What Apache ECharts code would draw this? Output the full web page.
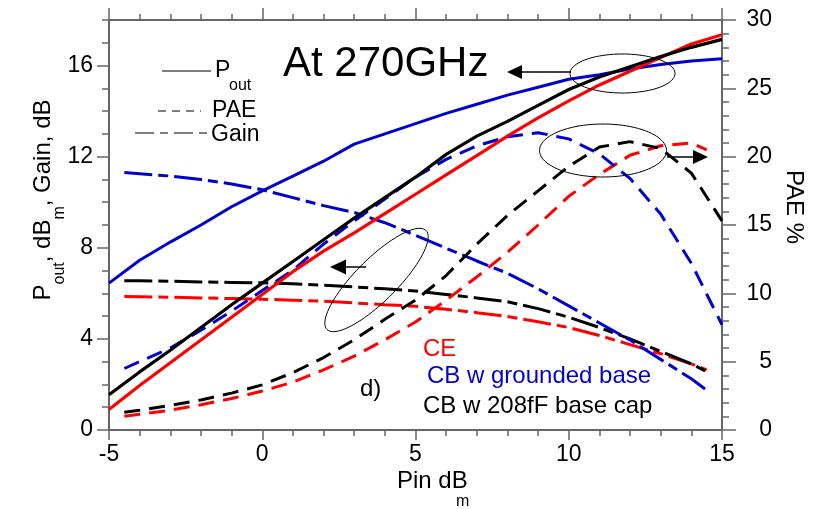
<!DOCTYPE html>
<html><head><meta charset="utf-8">
<script src="https://cdn.jsdelivr.net/npm/echarts@6/dist/echarts.min.js"></script>
<style>html,body{margin:0;padding:0;background:#fff}#c{width:820px;height:509px}</style>
</head><body><div id="c"></div>
<script>
// ---- data ----
const pinPout = [-5,-4,-3,-2,-1,0,1,2,3,4,5,6,7,8,9,10,11,12,13,14,15];
const poutCE  = [0.9,1.95,2.95,3.95,4.95,5.95,6.95,7.85,8.65,9.5,10.35,11.2,12.05,12.9,13.7,14.45,15.15,15.75,16.35,16.95,17.35];
const poutCBg = [6.45,7.45,8.25,9.0,9.8,10.5,11.15,11.8,12.55,13.0,13.45,13.9,14.3,14.7,15.05,15.4,15.6,15.85,16.05,16.2,16.3];
const poutCBc = [1.55,2.55,3.5,4.5,5.5,6.45,7.4,8.35,9.3,10.2,11.1,12.1,12.9,13.55,14.25,14.95,15.5,15.95,16.4,16.8,17.15];

const pinGain = [-4.5,-4,-3,-2,-1,0,1,2,3,4,5,6,7,8,9,10,11,12,13,14,14.5];
const gainCE  = [5.86,5.85,5.83,5.8,5.77,5.74,5.7,5.65,5.58,5.5,5.43,5.3,5.15,4.98,4.75,4.5,4.15,3.75,3.35,2.9,2.64];
const gainCBg = [11.3,11.25,11.15,11.0,10.8,10.55,10.2,9.85,9.55,9.1,8.55,7.98,7.42,6.88,6.2,5.45,4.7,3.95,3.1,2.25,1.75];
const gainCBc = [6.55,6.55,6.53,6.5,6.48,6.46,6.42,6.36,6.28,6.2,6.1,5.95,5.8,5.63,5.33,4.95,4.5,4.0,3.45,2.9,2.56];

const pinPaeCE = [-4.5,-4,-3,-2,-1,0,1,2,3,4,5,6,7,8,9,10,11,12,13,14,14.5];
const paeCE    = [1.0,1.15,1.45,1.85,2.3,2.85,3.5,4.4,5.4,6.6,7.9,9.5,11.2,13.0,15.0,17.1,18.7,20.1,20.8,21.0,20.5];
const pinPaeCB = [-4.5,-4,-3,-2,-1,0,1,2,3,4,5,6,7,8,9,10,11,12,13,14,15];
const paeCBg   = [4.5,5.0,6.0,7.3,8.7,10.2,11.7,13.6,15.3,16.9,18.5,19.8,20.8,21.45,21.75,21.3,20.2,18.4,15.8,12.2,7.7];
const paeCBc   = [1.3,1.45,1.8,2.2,2.7,3.3,4.2,5.3,6.6,8.1,9.5,11.3,13.6,15.7,17.5,19.3,20.7,21.1,20.6,18.8,15.3];

const xTicks = [-5,0,5,10,15];
const yLeftTicks = [0,4,8,12,16];
const yRightTicks = [0,5,10,15,20,25,30];

// ---- helpers ----
const zip = (xs, ys) => xs.map((x, i) => [x, ys[i]]);
const FONT = '"Liberation Sans", Arial, sans-serif';
const RED = '#ff0000', BLUE = '#0000d0', BLACK = '#000000';
const AX = '#666666';
const PAE_DASH = [16, 9];
const GAIN_DASH = [28, 6, 10, 6];

function ellipsePts(cx, cy, a, b, angDeg) {
  const t = angDeg * Math.PI / 180, pts = [];
  for (let i = 0; i <= 90; i++) {
    const u = i / 90 * 2 * Math.PI;
    const ex = a * Math.cos(u), ey = b * Math.sin(u);
    pts.push([cx + ex * Math.cos(t) + ey * Math.sin(t), cy - ex * Math.sin(t) + ey * Math.cos(t)]);
  }
  return pts;
}
function ell(cx, cy, a, b, ang) {
  return { type: 'polyline', shape: { points: ellipsePts(cx, cy, a, b, ang) }, style: { stroke: '#000', lineWidth: 1, fill: null }, z: 50 };
}
function arrowHead(tipX, tipY, dir, len, half) {
  const bx = tipX - dir * len;
  return { type: 'polygon', shape: { points: [[tipX, tipY], [bx, tipY - half], [bx, tipY + half]] }, style: { fill: '#000' }, z: 50 };
}
function hline(x1, x2, y, w, dash) {
  return { type: 'line', shape: { x1, y1: y, x2, y2: y }, style: { stroke: '#000', lineWidth: w || 1, lineDash: dash || null }, z: 50 };
}
function txt(x, y, text, size, color, extra) {
  return Object.assign({ type: 'text', x, y, z: 60, style: { text, fill: color || '#000', font: size + 'px ' + FONT, textAlign: 'left', textVerticalAlign: 'middle' } }, extra || {});
}

const chart = echarts.init(document.getElementById('c'), null, { renderer: 'canvas' });

const tickStyle = { color: AX, width: 1.5 };
const baseAxis = (extra) => Object.assign({
  type: 'value', splitLine: { show: false },
  axisLine: { show: true, onZero: false, lineStyle: { color: AX, width: 2 } },
  axisTick: { show: true, inside: false, lineStyle: tickStyle },
  axisLabel: { show: false }
}, extra);
const noLine = { show: false, onZero: false };

const series = [];
function addLine(xs, ys, color, dash, yIdx, w) {
  series.push({
    type: 'line', data: zip(xs, ys), xAxisIndex: 0, yAxisIndex: yIdx,
    showSymbol: false, symbol: 'none', smooth: false, silent: true,
    lineStyle: { color, width: w || 3, type: dash || 'solid', cap: 'butt' }
  });
}
addLine(pinGain, gainCE, RED, GAIN_DASH, 0);
addLine(pinGain, gainCBc, BLACK, GAIN_DASH, 0);
addLine(pinGain, gainCBg, BLUE, GAIN_DASH, 0);
addLine(pinPaeCE, paeCE, RED, PAE_DASH, 2);
addLine(pinPaeCB, paeCBc, BLACK, PAE_DASH, 2);
addLine(pinPaeCB, paeCBg, BLUE, PAE_DASH, 2);
addLine(pinPout, poutCBg, BLUE, 'solid', 0);
addLine(pinPout, poutCE, RED, 'solid', 0, 3.2);
addLine(pinPout, poutCBc, BLACK, 'solid', 0, 3.2);

const option = {
  animation: false,
  backgroundColor: '#fff',
  grid: { left: 109, right: 98, top: 20, bottom: 79, containLabel: false },
  xAxis: [
    baseAxis({ position: 'bottom', min: -5, max: 15, interval: 5,
      axisTick: { show: true, length: 10, lineStyle: tickStyle },
      axisLabel: { show: true, fontSize: 23, color: '#000', fontFamily: FONT, margin: 13,
        formatter: v => xTicks.includes(v) ? String(v) : '' } }),
    baseAxis({ position: 'bottom', min: -5, max: 15, interval: 1, axisLine: noLine,
      axisTick: { show: true, length: 6, lineStyle: tickStyle } }),
    baseAxis({ position: 'top', min: -5, max: 15, interval: 5,
      axisTick: { show: true, length: 12, lineStyle: tickStyle } }),
    baseAxis({ position: 'top', min: -5, max: 15, interval: 1, axisLine: noLine,
      axisTick: { show: true, length: 6, lineStyle: tickStyle } })
  ],
  yAxis: [
    baseAxis({ position: 'left', min: 0, max: 18, interval: 4,
      axisTick: { show: true, length: 12, customValues: yLeftTicks, lineStyle: tickStyle },
      axisLabel: { show: true, fontSize: 23, color: '#000', fontFamily: FONT, margin: 16,
        formatter: v => yLeftTicks.includes(v) ? String(v) : '' } }),
    baseAxis({ position: 'left', min: 0, max: 18, interval: 1, axisLine: noLine,
      axisTick: { show: true, length: 7, lineStyle: tickStyle } }),
    baseAxis({ position: 'right', min: 0, max: 30, interval: 5,
      axisTick: { show: true, length: 14, lineStyle: tickStyle },
      axisLabel: { show: true, fontSize: 23, color: '#000', fontFamily: FONT, margin: 50, align: 'right',
        formatter: v => yRightTicks.includes(v) ? String(v) : '' } }),
    baseAxis({ position: 'right', min: 0, max: 30, interval: 1, axisLine: noLine,
      axisTick: { show: true, length: 7, lineStyle: tickStyle } })
  ],
  series,
  graphic: [
    // legend samples
    hline(162, 211, 71, 1.2),
    hline(158, 201, 111, 1.2, [8, 6]),
    hline(135, 207, 133, 1.2, [19, 6, 8, 6]),
    txt(215, 71, 'P', 23),
    txt(229, 86, 'out', 16),
    txt(212, 111, 'PAE', 23),
    txt(211, 135, 'Gain', 23),
    // title annotation
    txt(283, 64, 'At 270GHz', 42),
    // ellipses + arrows
    ell(622.5, 73.5, 52.5, 19.5, 0),
    hline(518, 571, 72, 1.5),
    arrowHead(507, 72, -1, 15, 7),
    ell(603, 150.5, 63.5, 26.5, 0),
    hline(667, 694, 157, 1.5),
    arrowHead(708, 157, 1, 15, 7),
    ell(376.5, 280, 70, 21, 45),
    hline(344, 366, 267, 1.5),
    arrowHead(330, 267, -1, 16, 7.5),
    // device labels
    txt(423, 349, 'CE', 24, RED),
    txt(427, 376, 'CB w grounded base', 24, BLUE),
    txt(423, 406, 'CB w 208fF base cap', 24, BLACK),
    txt(360, 389, 'd)', 24, BLACK),
    // axis titles
    {
      type: 'text', x: 43, y: 200, rotation: Math.PI / 2, z: 60,
      style: {
        text: '{n|P}{s|out}{n|, dB}{s|m}{n|, Gain, dB}',
        textAlign: 'center', textVerticalAlign: 'middle', fill: '#000',
        rich: {
          n: { fontSize: 24, fontFamily: FONT, lineHeight: 50, fill: '#000', verticalAlign: 'middle' },
          s: { fontSize: 16, fontFamily: FONT, lineHeight: 12, fill: '#000', verticalAlign: 'bottom' }
        }
      }
    },
    txt(794, 207, 'PAE %', 24, '#000', { rotation: -Math.PI / 2, style: { text: 'PAE %', fill: '#000', font: '24px ' + FONT, textAlign: 'center', textVerticalAlign: 'middle' } }),
    txt(397, 481, 'Pin dB', 24),
    txt(456, 502, 'm', 16)
  ]
};
chart.setOption(option);
</script>
</body></html>
